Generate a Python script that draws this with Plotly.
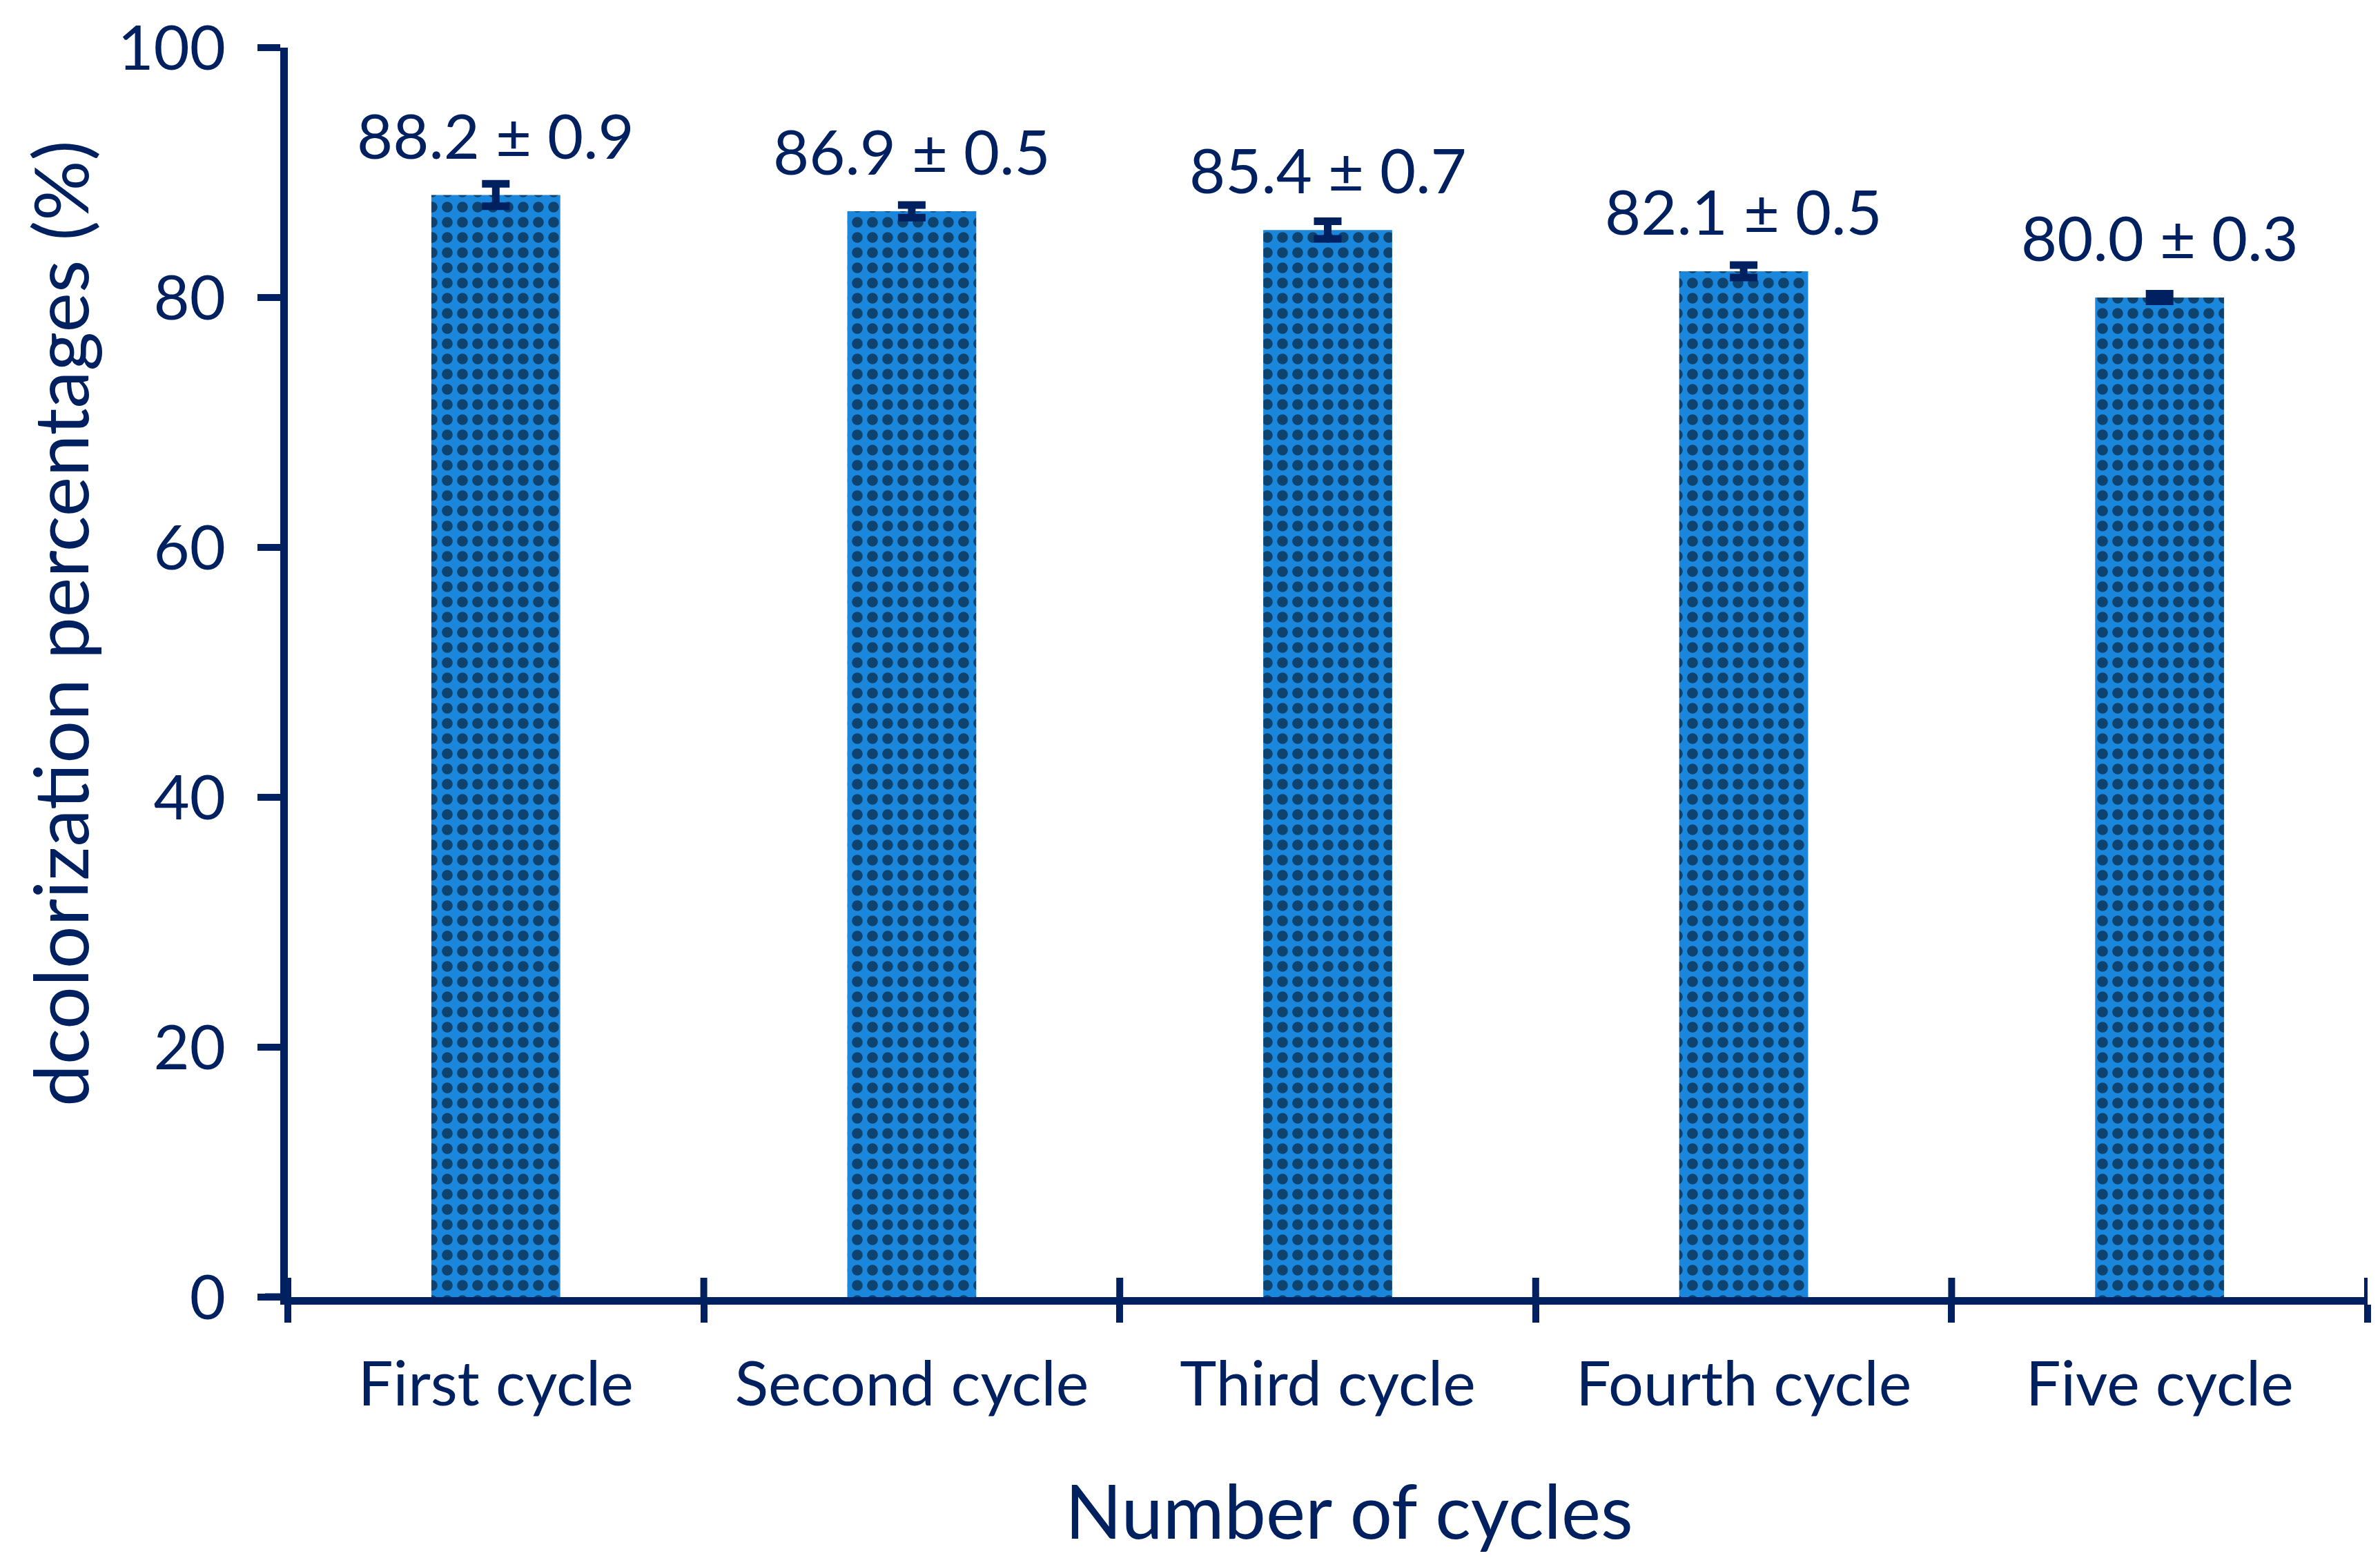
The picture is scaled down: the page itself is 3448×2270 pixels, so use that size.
import plotly.graph_objects as go

categories = ["First cycle", "Second cycle", "Third cycle", "Fourth cycle", "Five cycle"]
values = [88.2, 86.9, 85.4, 82.1, 80.0]
errors = [0.9, 0.5, 0.7, 0.5, 0.3]
y_ticks = [0, 20, 40, 60, 80, 100]

NAVY = "#002060"
BLUE = "#1b87dc"
FONT = "Lato"

W, H = 3448, 2270
L, R, T, B = 409, 26, 61, 399
pw = W - L - R
ph = H - T - B

fig = go.Figure()
fig.add_trace(go.Bar(
    x=categories, y=values,
    marker=dict(color=BLUE, line=dict(width=0),
                pattern=dict(shape=".", fgcolor="black", bgcolor=BLUE,
                             size=22, solidity=0.4, fillmode="overlay")),
    error_y=dict(type="data", array=errors, visible=True,
                 color=NAVY, thickness=11, width=20),
    showlegend=False,
))

annotations = []
for c, v, e in zip(categories, values, errors):
    annotations.append(dict(
        x=c, y=v, xref="x", yref="y", text=f"{v:.1f} \u00b1 {e:.1f}",
        showarrow=False, yanchor="middle", yshift=88,
        font=dict(family=FONT, size=90, color=NAVY)))

annotations.append(dict(
    x=(1946 - L) / pw, y=(T + ph - 2179) / ph, xref="paper", yref="paper",
    text="Number of cycles", showarrow=False, xanchor="center", yanchor="middle",
    font=dict(family=FONT, size=108, color=NAVY)))
annotations.append(dict(
    x=(77 - L) / pw, y=(T + ph - 895) / ph, xref="paper", yref="paper",
    text="dcolorization percentages (%)", showarrow=False, textangle=-90,
    xanchor="center", yanchor="middle",
    font=dict(family=FONT, size=109, color=NAVY)))

shapes = []
# extension of the horizontal axis line to the left (Excel style)
shapes.append(dict(type="line", xref="paper", yref="y", x0=-33 / pw, x1=0, y0=0, y1=0,
                   line=dict(color=NAVY, width=11)))
# upper half of the cross tick marks on the category axis
for i in range(len(categories) + 1):
    shapes.append(dict(type="line", xref="x", yref="paper", x0=i - 0.5, x1=i - 0.5,
                       y0=0, y1=28 / ph, line=dict(color=NAVY, width=10)))

fig.update_layout(
    width=W, height=H,
    margin=dict(l=L, r=R, t=T, b=B, autoexpand=False),
    paper_bgcolor="white", plot_bgcolor="white",
    bargap=0.69,
    annotations=annotations,
    shapes=shapes,
    font=dict(family=FONT, color=NAVY),
    xaxis=dict(
        type="category", range=[-0.5, len(categories) - 0.5],
        showline=True, linecolor=NAVY, linewidth=11,
        ticks="outside", tickson="boundaries", ticklen=26, tickwidth=10, tickcolor=NAVY,
        tickfont=dict(family=FONT, size=90, color=NAVY),
        ticklabelstandoff=38, showgrid=False, zeroline=False,
    ),
    yaxis=dict(
        range=[0, 100], tickvals=y_ticks,
        showline=True, linecolor=NAVY, linewidth=11,
        ticks="outside", ticklen=33, tickwidth=10, tickcolor=NAVY,
        tickfont=dict(family=FONT, size=90, color=NAVY),
        ticklabelstandoff=28, ticklabeloverflow="allow",
        showgrid=False, zeroline=False,
    ),
)

fig.write_html("out.html")
